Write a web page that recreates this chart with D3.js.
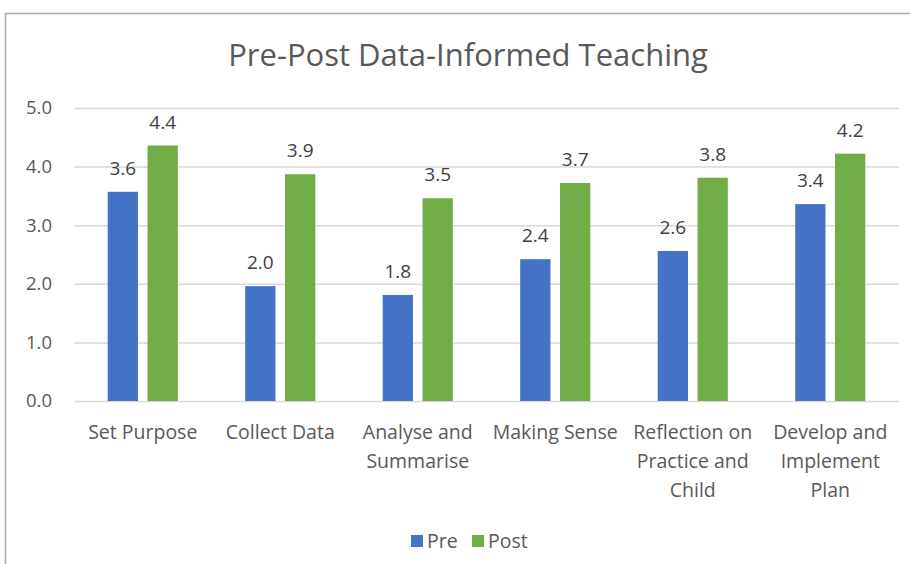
<!DOCTYPE html>
<html>
<head>
<meta charset="utf-8">
<script src="https://cdn.jsdelivr.net/npm/d3@7"></script>
<style>
  body { margin: 0; background: #fff; }
  text { font-family: "Open Sans", sans-serif; }
</style>
</head>
<body>
<div id="d3-container"></div>
<script>
// Chart data
const categorias = ['Set Purpose', 'Collect Data', 'Analyse and Summarise', 'Making Sense',
    'Reflection on Practice and Child', 'Develop and Implement Plan'];
const series = ['Pre', 'Post'];
const pre = [3.57, 1.96, 1.81, 2.42, 2.56, 3.36];
const post = [4.36, 3.87, 3.46, 3.72, 3.81, 4.22];
const yTicks = [0, 1, 2, 3, 4, 5];
const colores = { Pre: '#4472C4', Post: '#70AD47' };

// Build rows from the arrays
const datos = categorias.map((c, i) => ({ categoria: c, Pre: pre[i], Post: post[i] }));

const width = 910;
const height = 564;
const margin = { top: 108, bottom: 163, left: 74, right: 11 };

const svg = d3.select('#d3-container')
    .append('svg')
    .attr('width', width)
    .attr('height', height);

// Chart frame (border goes off the bottom/right edge like the screenshot)
svg.append('rect')
    .attr('x', 5.5).attr('y', 13.5)
    .attr('width', width + 10).attr('height', height + 10)
    .attr('fill', 'none')
    .attr('stroke', '#a6a6a6')
    .attr('stroke-width', 1.5);

// Scales
const x = d3.scaleBand()
    .domain(categorias)
    .range([margin.left, width - margin.right])
    .paddingInner(0.49)
    .paddingOuter(0.245);

const xSerie = d3.scaleBand()
    .domain(series)
    .range([0, x.bandwidth()])
    .paddingInner(0.24);

const y = d3.scaleLinear()
    .domain([0, 5])
    .range([401, margin.top]);

// Title
svg.append('text')
    .attr('x', 468)
    .attr('y', 66)
    .attr('text-anchor', 'middle')
    .attr('font-size', '31px')
    .attr('fill', '#595959')
    .text('Pre-Post Data-Informed Teaching');

// Y axis: gridlines + labels
function ejeY(g) {
    g.call(d3.axisLeft(y).tickValues(yTicks).tickFormat(d3.format('.1f'))
            .tickSize(-(width - margin.right - margin.left)).tickPadding(22))
        .attr('transform', `translate(${margin.left},0)`);
    g.select('.domain').remove();
    g.selectAll('.tick line').attr('stroke', '#d9d9d9').attr('stroke-width', 1.5);
    g.selectAll('.tick text')
        .attr('fill', '#595959')
        .attr('font-size', '18.5px')
        .attr('font-family', '"Open Sans", sans-serif');
}
svg.append('g').call(ejeY);

// Bars
const grupos = svg.append('g')
    .selectAll('g')
    .data(datos)
    .join('g')
    .attr('transform', d => `translate(${x(d.categoria)},0)`);

grupos.selectAll('rect')
    .data(d => series.map(s => ({ serie: s, valor: d[s] })))
    .join('rect')
    .attr('x', d => xSerie(d.serie))
    .attr('y', d => y(d.valor))
    .attr('width', xSerie.bandwidth())
    .attr('height', d => y(0) - y(d.valor))
    .attr('fill', d => colores[d.serie]);

// Value labels above the bars
grupos.selectAll('text')
    .data(d => series.map(s => ({ serie: s, valor: d[s] })))
    .join('text')
    .attr('x', d => xSerie(d.serie) + xSerie.bandwidth() / 2)
    .attr('y', d => y(d.valor) - 17)
    .attr('text-anchor', 'middle')
    .attr('font-size', '19px')
    .attr('fill', '#404040')
    .text(d => d3.format('.1f')(d.valor));

// X axis labels, wrapped to the band width
function ejeX(g) {
    g.attr('transform', `translate(0, ${y(0)})`)
        .call(d3.axisBottom(x).tickSize(0).tickPadding(0));
    g.select('.domain').remove();
    g.selectAll('.tick text').each(function (d) {
        const t = d3.select(this)
            .attr('fill', '#595959')
            .attr('font-size', '19.5px')
            .attr('font-family', '"Open Sans", sans-serif')
            .attr('y', null).attr('dy', null)
            .text(null);
        const palabras = d.split(' ');
        let linea = [];
        let n = 0;
        let tspan = t.append('tspan').attr('x', 0).attr('y', 38);
        palabras.forEach(p => {
            linea.push(p);
            tspan.text(linea.join(' '));
            if (tspan.node().getComputedTextLength() > 132 && linea.length > 1) {
                linea.pop();
                tspan.text(linea.join(' '));
                linea = [p];
                n++;
                tspan = t.append('tspan').attr('x', 0).attr('y', 38 + n * 29).text(p);
            }
        });
    });
}
svg.append('g').call(ejeX);

// Legend
const leyenda = svg.append('g').attr('transform', 'translate(411, 541)');
const items = leyenda.selectAll('g')
    .data(series)
    .join('g')
    .attr('transform', (d, i) => `translate(${i * 61},0)`);
items.append('rect')
    .attr('x', 0).attr('y', -6)
    .attr('width', 12).attr('height', 12)
    .attr('fill', d => colores[d]);
items.append('text')
    .attr('x', 16).attr('y', 7)
    .attr('font-size', '19.5px')
    .attr('fill', '#595959')
    .text(d => d);
</script>
</body>
</html>
